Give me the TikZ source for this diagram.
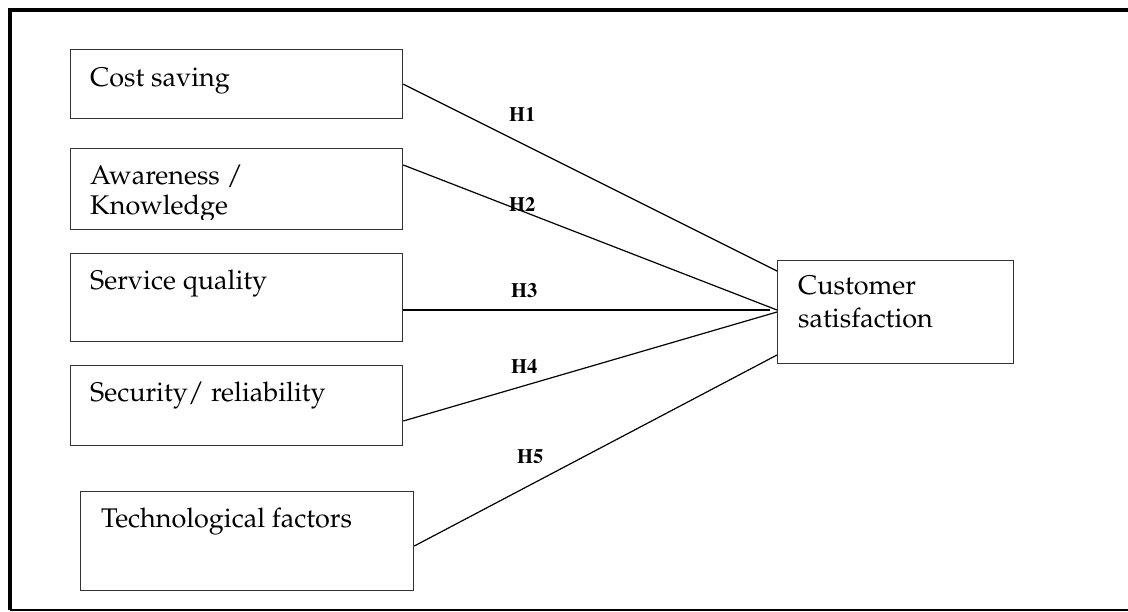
\documentclass[tikz,border=0pt]{standalone}
\usepackage[T1]{fontenc}
\usepackage{mathpazo}
\usetikzlibrary{calc}
\begin{document}
\begin{tikzpicture}[x=1pt,y=-1pt,
  box/.style={draw=black!80, line width=1.3pt, rectangle, inner sep=0pt, anchor=north west},
  lbl/.style={anchor=base west, inner sep=0pt, font=\fontsize{27}{30}\selectfont},
  hyp/.style={anchor=base west, inner sep=0pt, font=\fontfamily{ptm}\fontsize{20.5}{24}\bfseries\selectfont},
  link/.style={draw=black, line width=1.2pt},
  frame/.style={draw=black}]
\useasboundingbox (0,0) rectangle (1128,612);
% outer frame
\draw[frame, line width=4pt] (1140,10) -- (10,10) -- (10,610);
\draw[frame, line width=2pt] (10,610) -- (1140,610);
% boxes
\node[box, minimum width=332pt, minimum height=69pt] (cost) at (70,49) {};
\node[box, minimum width=332pt, minimum height=81pt] (aw) at (70,148) {};
\node[box, minimum width=332pt, minimum height=88pt] (sq) at (70,253) {};
\node[box, minimum width=332pt, minimum height=80pt] (sec) at (70,365) {};
\node[box, minimum width=333pt, minimum height=99pt] (tech) at (80,491) {};
\node[box, minimum width=236pt, minimum height=103pt] (cs) at (777,260) {};
% texts
\node[lbl] (costt) at ($(cost.north west)+(20,38)$) {Cost saving};
\begin{scope}
\clip (70,148) rectangle (402,220);
\node[lbl] (awt) at ($(aw.north west)+(20,37)$) {\begin{tabular}[t]{@{}l@{}}Awareness /\\Knowledge\end{tabular}};
\end{scope}
\node[lbl] (sqt) at ($(sq.north west)+(20,37)$) {Service quality};
\node[lbl] (sect) at ($(sec.north west)+(20,37)$) {Security/ reliability};
\node[lbl] (techt) at ($(tech.north west)+(21,36)$) {Technological factors};
\node[lbl, font=\fontsize{27}{33}\selectfont] (cst) at ($(cs.north west)+(21,35)$) {\begin{tabular}[t]{@{}l@{}}Customer\\satisfaction\end{tabular}};
% connector ends
\coordinate (a1) at (cost.east);
\coordinate (a2) at ($(aw.north east)+(0,17)$);
\coordinate (a3) at ($(sq.north east)+(0,57)$);
\coordinate (a4) at ($(sec.north east)+(0,56)$);
\coordinate (a5) at ($(tech.north east)+(0,55)$);
\coordinate (b1) at ($(cs.north west)+(0,11)$);
\coordinate (b2) at ($(cs.north west)+(0,50)$);
\coordinate (b3) at ($(cs.north west)+(-7,50)$);
\coordinate (b4) at ($(cs.north west)+(0,52)$);
\coordinate (b5) at ($(cs.north west)+(0,95)$);
\draw[link] (a1) -- (b1);
\draw[link] (a2) -- (b2);
\draw[link] (a3) -- (b3);
\draw[link] (a4) -- (b4);
\draw[link] (a5) -- (b5);
% hypothesis labels
\node[hyp] (h1) at (509,122) {H1};
\node[hyp] (h2) at (509,212) {H2};
\node[hyp] (h3) at (511,298) {H3};
\node[hyp] (h4) at (511,374) {H4};
\node[hyp] (h5) at (517,463) {H5};
\end{tikzpicture}
\end{document}
